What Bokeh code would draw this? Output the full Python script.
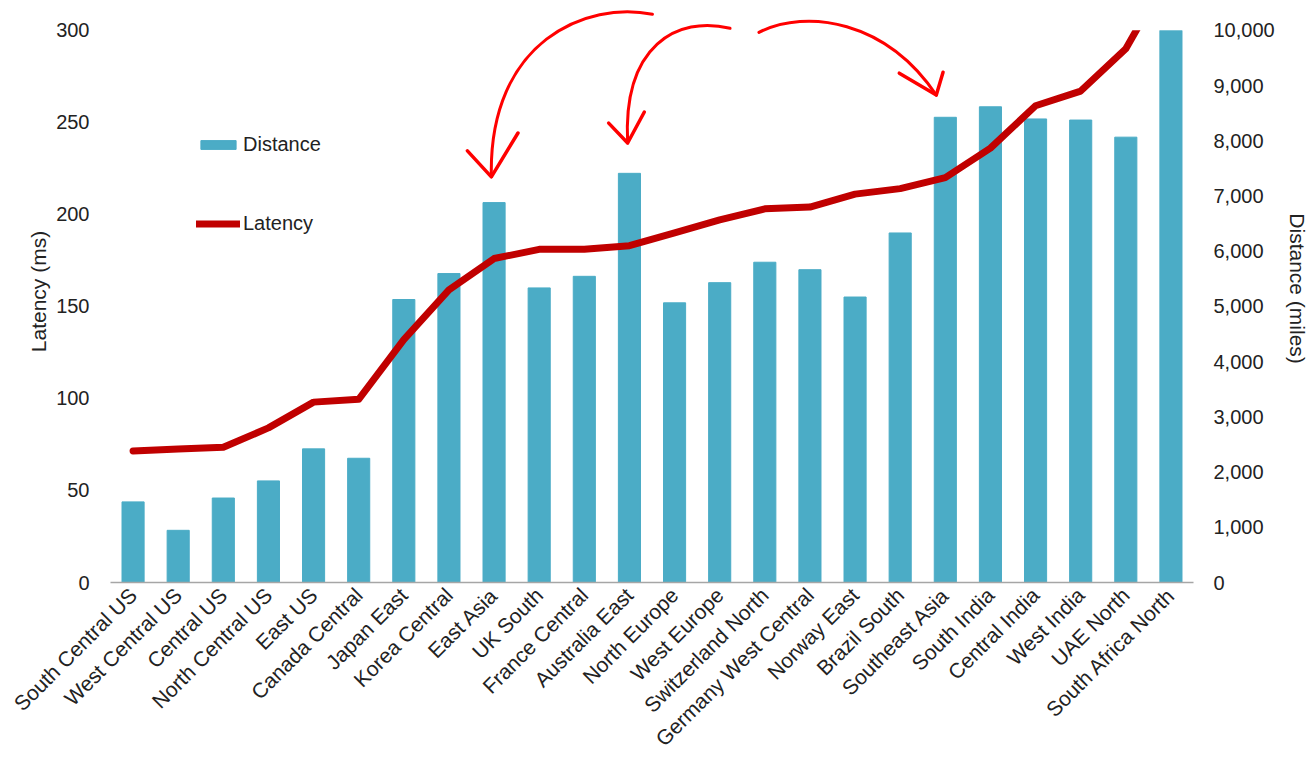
from bokeh.plotting import figure
from bokeh.models import (Range1d, LinearAxis, FixedTicker, NumeralTickFormatter,
                          Legend, LegendItem)
from bokeh.embed import file_html
from bokeh.resources import INLINE
import math

regions = ["South Central US", "West Central US", "Central US", "North Central US", "East US",
           "Canada Central", "Japan East", "Korea Central", "East Asia", "UK South",
           "France Central", "Australia East", "North Europe", "West Europe",
           "Switzerland North", "Germany West Central", "Norway East", "Brazil South",
           "Southeast Asia", "South India", "Central India", "West India", "UAE North",
           "South Africa North"]
distance_miles = [1460, 945, 1530, 1840, 2420, 2250, 5125, 5595, 6880, 5335, 5545, 7410,
                  5065, 5430, 5800, 5665, 5170, 6330, 8425, 8615, 8395, 8375, 8065, 10000]
latency_ms = [71.5, 72.5, 73.5, 84, 98, 99.5, 132, 159, 176, 181, 181, 183,
              190, 197, 203, 204, 211, 214, 220, 236, 259, 267, 290, 333]
latency_ticks = [0, 50, 100, 150, 200, 250, 300]
distance_ticks = [0, 1000, 2000, 3000, 4000, 5000, 6000, 7000, 8000, 9000, 10000]

# hand-drawn annotation arrows (x in category index, y in ms)
arrow_curves = {
    "x0": [11.51, 13.23, 13.87], "y0": [308.7, 301.1, 298.9],
    "cx0": [10.08, 12.06, 14.93], "cy0": [316.2, 308.1, 311.9],
    "cx1": [7.87, 10.85, 16.69], "cy1": [294.6, 291.9, 305.4],
    "x1": [7.94, 10.96, 17.80], "y1": [220.4, 238.8, 264.8],
}
arrow_heads = [
    ([7.41, 7.94, 8.53], [234.5, 220.4, 244.2]),
    ([10.54, 10.96, 11.33], [249.6, 238.8, 255.6]),
    ([16.98, 17.80, 17.95], [276.7, 264.8, 277.2]),
]

FONT = "Liberation Sans"
TXT = "#222222"
BAR = "#4bacc6"
LINE = "#c00000"

idx = list(range(len(regions)))
lat_max = latency_ticks[-1]
lat_top = 316.2
dist_top = lat_top / lat_max * distance_ticks[-1]

p = figure(width=1311, height=761, output_backend="svg", toolbar_location=None, title=None,
           x_range=Range1d(-0.5, len(regions) - 0.5), y_range=Range1d(0, lat_top),
           min_border_left=110, min_border_right=112, min_border_top=0,
           min_border_bottom=177)
p.outline_line_color = None
p.xgrid.visible = False
p.ygrid.visible = False
p.background_fill_color = "white"
p.border_fill_color = "white"

p.extra_y_ranges = {"dist": Range1d(0, dist_top)}

bars = p.vbar(x=idx, top=distance_miles, width=0.49, color=BAR, y_range_name="dist")
line = p.line(x=idx, y=latency_ms, line_color=LINE, line_width=7,
              line_join="round", line_cap="round")

# white strip above the 300 ms top of the value axes (hides the overflowing line)
mask = p.quad(left=[-0.5], right=[len(regions) - 0.5], bottom=[lat_max], top=[lat_top + 40],
              fill_color="white", line_color=None)
mask.level = "overlay"

cr = p.bezier(x0="x0", y0="y0", x1="x1", y1="y1", cx0="cx0", cy0="cy0", cx1="cx1", cy1="cy1",
              source=arrow_curves, line_color="#ff0000", line_width=3, line_cap="round")
cr.level = "overlay"
for hx, hy in arrow_heads:
    hr = p.line(x=hx, y=hy, line_color="#ff0000", line_width=3.5,
                line_cap="round", line_join="round")
    hr.level = "overlay"

# x axis
xa = p.xaxis[0]
xa.ticker = FixedTicker(ticks=idx)
xa.major_label_overrides = {i: r for i, r in enumerate(regions)}
xa.major_label_orientation = math.pi / 4
xa.major_label_text_font = FONT
xa.major_label_text_font_size = "21px"
xa.major_label_text_color = TXT
xa.major_label_standoff = 3
xa.axis_line_color = "#a6a6a6"
xa.axis_line_width = 1.5
xa.major_tick_line_color = None
xa.minor_tick_line_color = None

# left axis
ya = p.yaxis[0]
ya.ticker = FixedTicker(ticks=latency_ticks)
ya.bounds = (0, lat_max)
ya.axis_label = "Latency (ms)"
ya.axis_label_text_font = FONT
ya.axis_label_text_font_size = "21px"
ya.axis_label_text_font_style = "normal"
ya.axis_label_text_color = TXT
ya.axis_label_standoff = 3
ya.major_label_text_font = FONT
ya.major_label_text_font_size = "20px"
ya.major_label_text_color = TXT
ya.major_label_standoff = 15
ya.axis_line_color = None
ya.major_tick_line_color = None
ya.minor_tick_line_color = None

# right axis
ra = LinearAxis(y_range_name="dist", ticker=FixedTicker(ticks=distance_ticks),
                formatter=NumeralTickFormatter(format="0,0"), bounds=(0, distance_ticks[-1]))
ra.axis_label = "Distance  (miles)"
ra.axis_label_orientation = "vertical"
ra.axis_label_text_font = FONT
ra.axis_label_text_font_size = "21px"
ra.axis_label_text_font_style = "normal"
ra.axis_label_text_color = TXT
ra.axis_label_standoff = 8
ra.major_label_text_font = FONT
ra.major_label_text_font_size = "20px"
ra.major_label_text_color = TXT
ra.major_label_standoff = 14
ra.axis_line_color = None
ra.major_tick_line_color = None
ra.minor_tick_line_color = None
p.add_layout(ra, "right")

legend = Legend(items=[LegendItem(label="Distance", renderers=[bars]),
                       LegendItem(label="Latency", renderers=[line])],
                location=(86, 347), orientation="vertical",
                glyph_width=44, glyph_height=11, spacing=56, padding=0, margin=0,
                label_standoff=3, label_text_font=FONT, label_text_font_size="20px",
                label_text_color=TXT, border_line_color=None, background_fill_alpha=0)
p.add_layout(legend)

open("out.html", "w").write(file_html(p, INLINE))
